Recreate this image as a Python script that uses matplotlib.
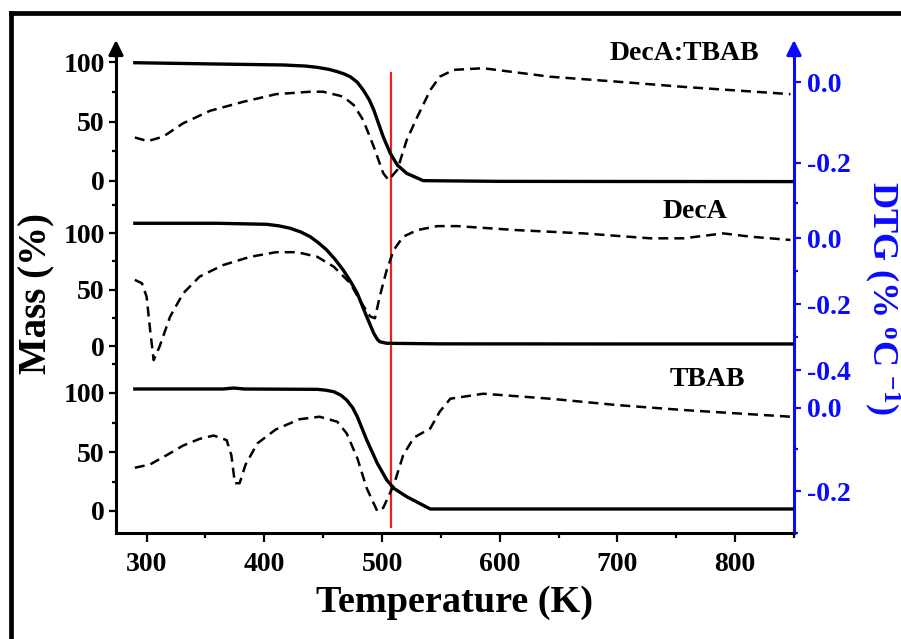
import matplotlib.pyplot as plt
from matplotlib.lines import Line2D

plt.rcParams['font.family'] = 'Liberation Serif'
plt.rcParams['font.weight'] = 'bold'
plt.rcParams['axes.labelweight'] = 'bold'
plt.rcParams['axes.unicode_minus'] = False
plt.rcParams['mathtext.fontset'] = 'custom'
plt.rcParams['mathtext.rm'] = 'Liberation Serif:bold'
plt.rcParams['mathtext.it'] = 'Liberation Serif:bold'
plt.rcParams['mathtext.bf'] = 'Liberation Serif:bold'

# ---- data ----
# DecA:TBAB (top panel)
mix_mass_t = [290, 360, 416, 435, 445, 455, 462, 468, 473, 479, 484, 489, 493, 501, 507,
              513, 521, 535, 600, 700, 850]
mix_mass = [99.4, 98.3, 97.5, 96.6, 95.5, 93.8, 91.9, 89.9, 87.6, 83.0, 76.5, 68.5, 59.7,
            37.2, 23.3, 13.4, 6.4, 0.3, -0.3, -0.4, -0.5]
mix_dtg_t = [290, 301, 314, 331, 354, 382, 410, 439, 450, 467, 476, 484, 493, 501, 505.5,
             513, 521, 530, 541, 549, 561, 586, 643, 699, 756, 847]
mix_dtg = [-0.137, -0.146, -0.135, -0.102, -0.071, -0.049, -0.030, -0.024, -0.024, -0.036,
           -0.057, -0.094, -0.160, -0.225, -0.242, -0.217, -0.143, -0.086, -0.020, 0.013,
           0.030, 0.034, 0.013, 0.001, -0.012, -0.030]

# DecA (middle panel)
deca_mass_t = [290, 360, 402, 412, 422, 431, 439, 446, 453, 460, 467, 473, 479, 487, 493,
               496, 498, 504, 550, 700, 850]
deca_mass = [108.6, 108.6, 107.7, 106.4, 104.2, 100.9, 96.7, 91.3, 85.0, 76.8, 67.3, 57.6,
             46.6, 25.9, 11.2, 6.0, 3.8, 2.4, 1.9, 1.8, 1.8]
deca_dtg_t = [290, 296, 300, 303, 306, 311, 320, 331, 345, 365, 388, 410, 428, 445, 459,
              473, 481, 490, 494, 498, 504, 510, 518, 530, 547, 564, 614, 671, 728, 756,
              790, 813, 847]
deca_dtg = [-0.127, -0.137, -0.178, -0.279, -0.370, -0.329, -0.238, -0.168, -0.117, -0.082,
            -0.057, -0.043, -0.043, -0.057, -0.087, -0.137, -0.188, -0.238, -0.243, -0.178,
            -0.097, -0.036, 0.004, 0.024, 0.036, 0.036, 0.024, 0.014, -0.001, -0.001,
            0.014, 0.004, -0.006]

# TBAB (bottom panel)
tbab_mass_t = [290, 365, 374, 383, 445, 452, 459, 465, 470, 475, 479, 487, 496, 504, 510,
               521, 541, 600, 850]
tbab_mass = [103.4, 103.4, 104.2, 103.4, 103.1, 102.4, 101.1, 98.2, 94.0, 87.6, 79.9, 60.2,
             40.4, 26.3, 19.2, 12.1, 1.7, 1.7, 1.7]
tbab_dtg_t = [290, 303, 317, 331, 345, 357, 368, 372, 375, 379, 384, 394, 410, 430, 447,
              462, 470, 479, 487, 496, 501, 510, 518, 527, 541, 549, 558, 586, 643, 699,
              756, 847]
tbab_dtg = [-0.144, -0.136, -0.114, -0.091, -0.075, -0.067, -0.078, -0.114, -0.181, -0.181,
            -0.137, -0.086, -0.052, -0.028, -0.022, -0.034, -0.062, -0.121, -0.193, -0.248,
            -0.240, -0.185, -0.114, -0.072, -0.050, -0.010, 0.021, 0.033, 0.021, 0.006,
            -0.006, -0.022]

panel_names = ['DecA:TBAB', 'DecA', 'TBAB']
marker_temp = 508  # red reference line (K)
x_ticks = [300, 400, 500, 600, 700, 800]

# ---- layout (pixels in the 901x639 figure) ----
W, H = 901, 639
PLOT_L, PLOT_R, PLOT_T, PLOT_B = 116, 794, 45, 533
XLIM = (274, 850)
BLUE = '#0a0aff'
RED = '#e8231f'

# per panel: (mass 0 px, mass 100 px), (dtg 0 px, dtg -0.2 px), label centre px
PANEL_LAYOUT = [
    dict(mass_px=(181, 62), dtg_px=(82, 163), label_xy=(684, 54),
         mass_minor=[25, 75], dtg_major=[0.0, -0.2], dtg_minor=[-0.3]),
    dict(mass_px=(346, 233), dtg_px=(238, 304), label_xy=(695, 212),
         mass_minor=[25, 75, 125], dtg_major=[0.0, -0.2, -0.4], dtg_minor=[-0.1, -0.3]),
    dict(mass_px=(511, 393), dtg_px=(409, 493), label_xy=(707, 379),
         mass_minor=[25, 75, 125], dtg_major=[0.0, -0.2], dtg_minor=[-0.1, -0.3]),
]


def ylim_from_pixels(v0, p0, v1, p1):
    k = (p0 - p1) / (v1 - v0)
    return (v0 - (PLOT_B - p0) / k, v0 + (p0 - PLOT_T) / k)


rect = [PLOT_L / W, 1 - PLOT_B / H, (PLOT_R - PLOT_L) / W, (PLOT_B - PLOT_T) / H]

fig = plt.figure(figsize=(W / 100, H / 100), dpi=100)

# base frame: spines, x ticks, red marker line
base = fig.add_axes(rect)
base.set_xlim(*XLIM)
base.set_ylim(0, 1)
base.spines['top'].set_visible(False)
base.spines['left'].set_linewidth(2.2)
base.spines['bottom'].set_linewidth(2.2)
base.spines['right'].set_linewidth(2.2)
base.spines['right'].set_color(BLUE)
base.set_yticks([])
base.set_xticks(x_ticks)
base.set_xticks([t + 50 for t in x_ticks], minor=True)
base.tick_params(axis='x', which='major', direction='out', length=6.5, width=1.6,
                 labelsize=20, pad=7)
base.tick_params(axis='x', which='minor', direction='out', length=3.5, width=1.6)
base.set_xlabel('Temperature (K)', fontsize=27.5, labelpad=6)
base.axvline(marker_temp, ymin=(PLOT_B - 527) / (PLOT_B - PLOT_T),
             ymax=(PLOT_B - 73) / (PLOT_B - PLOT_T), color=RED, lw=1.6, zorder=5)
base.annotate('', xy=(0, 1.016), xytext=(0, 0.97), xycoords='axes fraction',
              arrowprops=dict(arrowstyle='-|>', color='k', lw=2.2, mutation_scale=22))
base.annotate('', xy=(1, 1.016), xytext=(1, 0.97), xycoords='axes fraction',
              arrowprops=dict(arrowstyle='-|>', color=BLUE, lw=2.2, mutation_scale=22))

series = [
    (mix_mass_t, mix_mass, mix_dtg_t, mix_dtg),
    (deca_mass_t, deca_mass, deca_dtg_t, deca_dtg),
    (tbab_mass_t, tbab_mass, tbab_dtg_t, tbab_dtg),
]

for name, (mt, mv, dt, dv), lay in zip(panel_names, series, PANEL_LAYOUT):
    ax_m = fig.add_axes(rect, facecolor='none')
    ax_d = ax_m.twinx()
    for a in (ax_m, ax_d):
        a.set_xlim(*XLIM)
        for s in a.spines.values():
            s.set_visible(False)
        a.tick_params(axis='x', bottom=False, top=False, labelbottom=False)

    p0, p100 = lay['mass_px']
    ax_m.set_ylim(*ylim_from_pixels(0, p0, 100, p100))
    ax_m.set_yticks([0, 50, 100])
    ax_m.set_yticks(lay['mass_minor'], minor=True)
    ax_m.tick_params(axis='y', which='major', direction='out', length=5, width=1.6,
                     labelsize=20, pad=3)
    ax_m.tick_params(axis='y', which='minor', direction='out', length=3, width=1.6)
    ax_m.plot(mt, mv, color='k', lw=2.4, solid_joinstyle='round')

    d0, d2 = lay['dtg_px']
    ax_d.set_ylim(*ylim_from_pixels(0.0, d0, -0.2, d2))
    ax_d.set_yticks(lay['dtg_major'])
    ax_d.set_yticklabels([f'{v:.1f}' for v in lay['dtg_major']])
    ax_d.set_yticks(lay['dtg_minor'], minor=True)
    ax_d.tick_params(axis='y', which='major', direction='out', length=5, width=1.6,
                     labelsize=20, pad=4, colors=BLUE)
    ax_d.tick_params(axis='y', which='minor', direction='out', length=3, width=1.6,
                     colors=BLUE)
    ax_d.plot(dt, dv, color='k', lw=1.8, dashes=(4, 2.4))

    lx, ly = lay['label_xy']
    fig.text(lx / W, 1 - ly / H, name, ha='center', va='center', fontsize=20)

fig.text(37 / W, 1 - 294 / H, 'Mass (%)', rotation=90, ha='center', va='center',
         fontsize=28)
fig.text(882 / W, 1 - 298 / H, r'DTG (% $^{o}$C $^{-1}$)', rotation=270, ha='center',
         va='center', fontsize=26, color=BLUE)

# outer frame (only top and left edges are visible in the original crop)
fig.add_artist(Line2D([10.5 / W, 10.5 / W], [0, 1 - 13 / H], transform=fig.transFigure,
                      color='k', lw=3.4))
fig.add_artist(Line2D([10.5 / W, 1], [1 - 13 / H, 1 - 13 / H], transform=fig.transFigure,
                      color='k', lw=3.4))

fig.savefig('out.png', dpi=100)
